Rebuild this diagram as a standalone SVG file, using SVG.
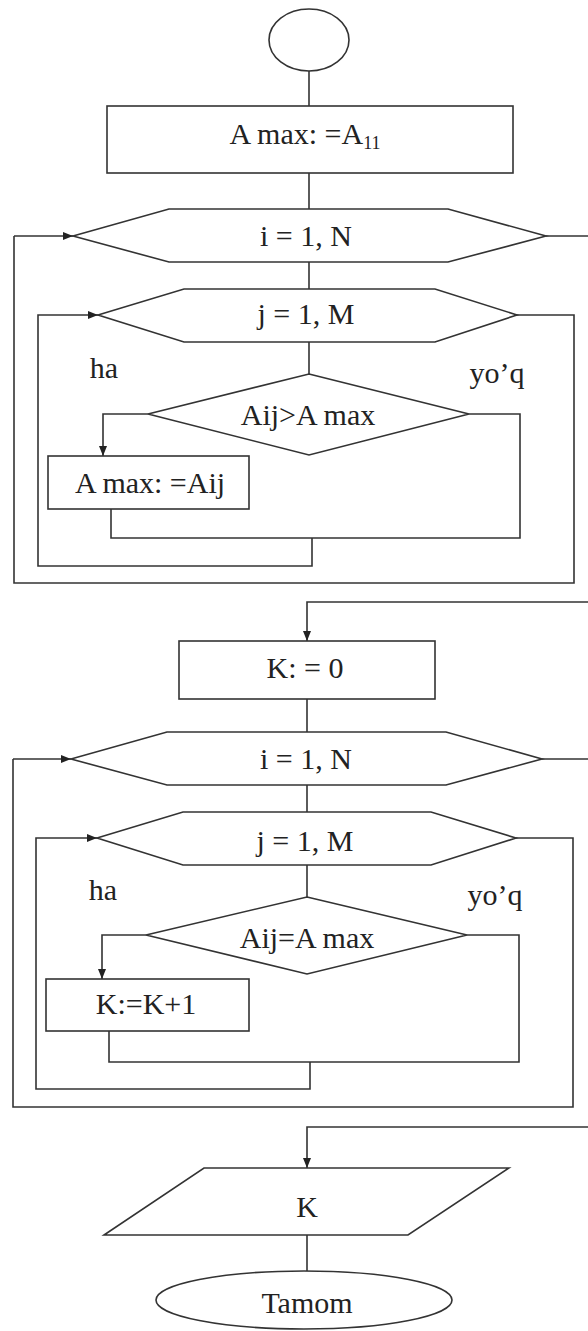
<svg xmlns="http://www.w3.org/2000/svg" width="588" height="1331" viewBox="0 0 588 1331">
<style>
.s{fill:#fff;stroke:#333;stroke-width:1.6}
.c{fill:none;stroke:#333;stroke-width:1.6}
text{font-family:"Liberation Serif","Times New Roman",serif;font-size:30px;fill:#222;text-anchor:middle}
</style>
<defs>
<marker id="a" viewBox="0 0 10 10" refX="10" refY="5" markerWidth="10" markerHeight="10" markerUnits="userSpaceOnUse" orient="auto">
<path d="M0,1 L10,5 L0,9 Z" fill="#222"/>
</marker>
</defs>
<rect width="588" height="1331" fill="#fff"/>
<g id="connectors">
<path class="c" d="M309,71 V106"/>
<path class="c" d="M309,173 V209"/>
<path class="c" d="M309,262 V289"/>
<path class="c" d="M309,342 V374"/>
<path class="c" d="M14,236 H73" marker-end="url(#a)"/>
<path class="c" d="M546,236 H588"/>
<path class="c" d="M148,414 H103 V456" marker-end="url(#a)"/>
<path class="c" d="M469,414 H520 V538 H111 V509"/>
<path class="c" d="M312,538 V566 H38 V315 H98" marker-end="url(#a)"/>
<path class="c" d="M517,315 H574 V583 H14 V236"/>
<path class="c" d="M588,602 H307 V641" marker-end="url(#a)"/>
<path class="c" d="M307,699 V732"/>
<path class="c" d="M307,785 V812"/>
<path class="c" d="M307,865 V897"/>
<path class="c" d="M13,759 H71" marker-end="url(#a)"/>
<path class="c" d="M542,759 H588"/>
<path class="c" d="M146,935 H102 V979" marker-end="url(#a)"/>
<path class="c" d="M467,935 H519 V1062 H109 V1031"/>
<path class="c" d="M310,1062 V1089 H36 V838 H97" marker-end="url(#a)"/>
<path class="c" d="M516,838 H573 V1107 H13 V759"/>
<path class="c" d="M588,1127 H307 V1168" marker-end="url(#a)"/>
<path class="c" d="M307,1235 V1271"/>
</g>
<g id="start"><ellipse class="s" cx="309" cy="40" rx="40" ry="31"/></g>
<g id="init1"><rect class="s" x="107" y="106" width="406" height="67"/><text x="305" y="144">A max: =A<tspan font-size="18" dy="5">11</tspan></text></g>
<g id="loopI1"><polygon class="s" points="73,236 169,209 448,209 546,236 448,262 169,262"/><text x="306" y="246">i = 1, N</text></g>
<g id="loopJ1"><polygon class="s" points="98,315 184,289 435,289 517,315 435,342 184,342"/><text x="306" y="324">j = 1, M</text></g>
<g id="cond1"><polygon class="s" points="309,374 469,414 309,455 148,414"/><text x="308" y="425">Aij&gt;A max</text></g>
<g id="lbl1"><text x="104" y="378">ha</text><text x="497" y="383">yo’q</text></g>
<g id="assign1"><rect class="s" x="48" y="456" width="201" height="53"/><text x="150" y="493">A max: =Aij</text></g>
<g id="init2"><rect class="s" x="179" y="641" width="256" height="58"/><text x="305" y="678">K: = 0</text></g>
<g id="loopI2"><polygon class="s" points="71,759 167,732 446,732 542,759 446,785 167,785"/><text x="306" y="769">i = 1, N</text></g>
<g id="loopJ2"><polygon class="s" points="97,838 183,812 431,812 516,838 431,865 183,865"/><text x="305" y="851">j = 1, M</text></g>
<g id="cond2"><polygon class="s" points="307,897 467,935 307,974 146,935"/><text x="307" y="948">Aij=A max</text></g>
<g id="lbl2"><text x="103" y="900">ha</text><text x="495" y="905">yo’q</text></g>
<g id="assign2"><rect class="s" x="46" y="979" width="203" height="52"/><text x="146" y="1014">K:=K+1</text></g>
<g id="output"><polygon class="s" points="204,1168 509,1168 408,1235 104,1235"/><text x="307" y="1217">K</text></g>
<g id="end"><ellipse class="s" cx="304" cy="1300" rx="148" ry="29"/><text x="307" y="1313">Tamom</text></g>
</svg>
